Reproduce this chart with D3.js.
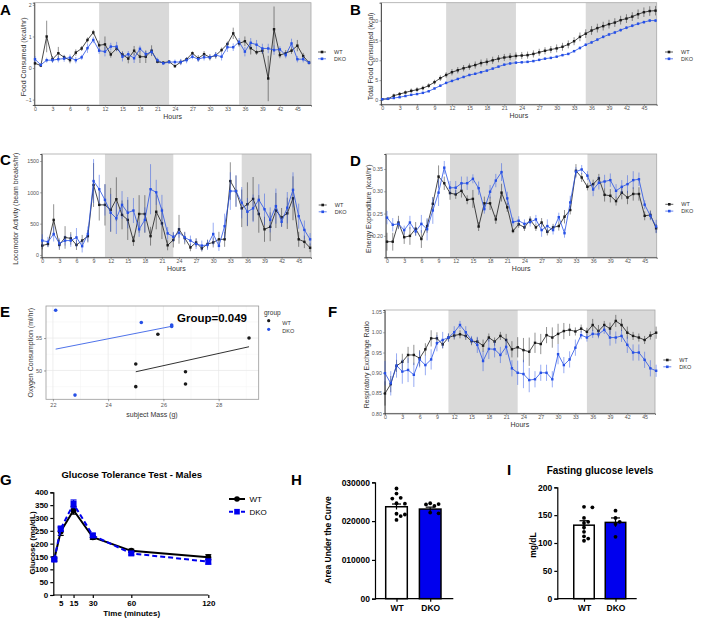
<!DOCTYPE html>
<html><head><meta charset="utf-8">
<script src="https://cdn.jsdelivr.net/npm/d3@7"></script>
<style>
body{margin:0;background:#fff}
svg{font-family:"Liberation Sans",Arial,sans-serif}
</style></head><body><div id="plot"></div>
<script>
// ---- data ----
const hours = d3.range(0, 48);
const hourTicks = d3.range(0, 46, 3);
const darkPhases = [[11, 23], [35, 48]];
const groups = ["WT", "DKO"];

const foodWT = [0.15,0.08,1.0,0.28,0.47,0.34,0.25,0.49,0.62,0.89,1.13,0.72,0.75,0.43,0.62,0.43,0.3,0.55,0.36,0.36,0.55,0.2,0.17,0.2,0.06,0.19,0.28,0.47,0.31,0.44,0.34,0.4,0.57,0.76,1.1,0.78,0.85,0.63,0.5,0.55,-0.33,1.23,0.41,0.47,0.55,0.71,0.38,0.17];
const foodWTErr = [0.05,0.05,0.5,0.1,0.2,0.08,0.1,0.1,0.08,0.08,0.08,0.15,0.25,0.1,0.08,0.1,0.15,0.15,0.2,0.2,0.17,0.05,0.05,0.05,0.05,0.08,0.06,0.06,0.1,0.1,0.1,0.1,0.08,0.08,0.18,0.1,0.15,0.2,0.08,0.1,0.72,0.72,0.1,0.1,0.1,0.18,0.1,0.06];
const foodDKO = [0.28,0.1,0.25,0.25,0.28,0.3,0.33,0.25,0.34,0.63,0.89,0.55,0.52,0.68,0.68,0.36,0.44,0.31,0.61,0.44,0.51,0.25,0.15,0.19,0.19,0.19,0.25,0.36,0.28,0.34,0.34,0.41,0.36,0.66,0.66,0.83,0.52,0.8,0.74,0.62,0.62,0.57,0.59,0.41,0.78,0.28,0.28,0.17];
const foodDKOErr = [0.1,0.05,0.08,0.08,0.1,0.1,0.1,0.1,0.08,0.15,0.1,0.1,0.15,0.12,0.15,0.15,0.1,0.15,0.1,0.1,0.1,0.08,0.05,0.06,0.08,0.1,0.1,0.08,0.08,0.1,0.08,0.1,0.12,0.15,0.12,0.12,0.15,0.15,0.15,0.15,0.15,0.15,0.1,0.1,0.15,0.1,0.1,0.05];

const totalWT = [0.2,0.3,1.1,1.5,1.9,2.3,2.6,3.0,3.6,4.5,5.5,6.3,7.0,7.5,8.0,8.4,8.8,9.3,9.6,10.0,10.4,10.7,10.9,11.1,11.2,11.3,11.6,12.0,12.4,12.7,13.0,13.4,14.0,14.8,15.9,16.7,17.5,18.1,18.6,19.1,19.5,20.1,20.5,21.0,21.6,22.1,22.4,22.5];
const totalWTErr = [0.1,0.1,0.5,0.5,0.5,0.6,0.6,0.6,0.6,0.6,0.7,0.7,0.8,0.8,0.8,0.8,0.9,0.9,0.9,0.9,0.9,0.9,0.9,0.9,0.9,0.9,0.9,0.9,0.9,0.9,1.0,1.0,1.0,1.0,1.1,1.1,1.1,1.1,1.1,1.1,1.1,1.1,1.1,1.1,1.2,1.2,1.2,1.2];
const totalDKO = [0.2,0.3,0.5,0.7,1.0,1.3,1.5,1.8,2.2,2.9,3.6,4.3,4.8,5.3,5.8,6.3,6.6,7.0,7.4,7.9,8.4,8.9,9.2,9.4,9.5,9.6,9.8,10.1,10.4,10.6,10.9,11.3,11.6,12.3,13.1,13.9,14.5,15.2,15.9,16.5,17.0,17.6,18.2,18.7,19.2,19.6,20.0,20.0];
const totalDKOErr = [0.1,0.1,0.2,0.2,0.2,0.2,0.2,0.2,0.2,0.2,0.3,0.3,0.3,0.3,0.3,0.3,0.3,0.3,0.3,0.3,0.3,0.3,0.3,0.3,0.3,0.3,0.3,0.3,0.3,0.3,0.3,0.3,0.3,0.3,0.4,0.4,0.4,0.4,0.4,0.4,0.4,0.4,0.4,0.4,0.4,0.4,0.4,0.4];

const locoWT = [150,175,560,160,280,265,160,230,300,1117,800,800,720,890,640,560,225,655,655,300,690,505,155,240,410,270,120,200,105,175,200,250,250,1180,1020,745,810,895,655,410,450,710,600,665,905,250,210,115];
const locoWTErr = [60,50,250,80,180,100,80,90,100,350,250,330,350,350,230,320,80,300,300,150,280,250,80,120,230,100,60,70,50,70,80,120,120,300,250,300,350,350,300,200,230,280,150,250,350,120,100,70];
const locoDKO = [230,210,335,185,230,230,280,140,335,1180,1050,880,675,585,800,675,710,410,560,1050,1000,710,345,290,355,280,230,175,150,160,335,145,460,1020,1020,835,690,745,880,730,560,780,530,755,1040,620,400,250];
const locoDKOErr = [100,80,120,80,80,100,150,100,120,350,230,250,300,250,220,250,200,120,200,400,200,250,100,80,80,80,80,80,80,80,180,80,200,300,250,250,220,220,250,250,200,280,80,250,280,200,150,100];

const eeWT = [0.187,0.187,0.23,0.197,0.2,0.216,0.193,0.222,0.272,0.333,0.318,0.296,0.293,0.301,0.281,0.283,0.221,0.273,0.273,0.237,0.297,0.264,0.211,0.226,0.219,0.236,0.219,0.23,0.209,0.219,0.222,0.243,0.258,0.346,0.331,0.31,0.316,0.329,0.292,0.29,0.278,0.297,0.286,0.294,0.294,0.245,0.247,0.217];
const eeWTErr = [0.02,0.02,0.015,0.015,0.02,0.015,0.02,0.015,0.015,0.025,0.015,0.015,0.01,0.015,0.01,0.02,0.01,0.015,0.015,0.01,0.02,0.01,0.005,0.008,0.008,0.008,0.008,0.01,0.008,0.008,0.01,0.015,0.01,0.015,0.01,0.008,0.01,0.01,0.015,0.015,0.01,0.015,0.015,0.015,0.015,0.01,0.01,0.01];
const eeDKO = [0.241,0.225,0.227,0.213,0.23,0.21,0.227,0.215,0.257,0.297,0.353,0.308,0.308,0.318,0.318,0.328,0.307,0.26,0.299,0.324,0.343,0.284,0.231,0.234,0.227,0.231,0.237,0.213,0.222,0.213,0.242,0.206,0.275,0.344,0.349,0.335,0.304,0.319,0.322,0.325,0.301,0.31,0.316,0.325,0.327,0.27,0.245,0.221];
const eeDKOErr = [0.015,0.015,0.01,0.01,0.015,0.01,0.02,0.025,0.03,0.03,0.015,0.015,0.015,0.015,0.015,0.01,0.015,0.01,0.015,0.015,0.02,0.015,0.01,0.01,0.01,0.01,0.01,0.015,0.015,0.01,0.01,0.01,0.015,0.01,0.01,0.01,0.015,0.015,0.015,0.015,0.015,0.015,0.02,0.02,0.015,0.01,0.01,0.015];

const rerWT = [0.849,0.872,0.917,0.927,0.944,0.944,0.936,0.958,0.985,0.985,0.97,0.987,0.992,0.995,0.991,0.978,0.977,0.967,0.987,0.977,0.991,0.981,0.958,0.963,0.956,0.952,0.974,0.971,0.993,0.987,0.996,1.003,1.006,1.002,1.009,1.001,1.018,1.003,1.018,1.009,1.028,1.018,0.999,0.991,0.987,0.981,0.992,0.999];
const rerWTErr = [0.03,0.02,0.015,0.02,0.02,0.025,0.02,0.015,0.02,0.015,0.01,0.01,0.01,0.01,0.01,0.01,0.01,0.015,0.01,0.01,0.01,0.015,0.02,0.025,0.03,0.035,0.025,0.025,0.02,0.025,0.025,0.02,0.015,0.01,0.01,0.01,0.015,0.015,0.01,0.015,0.015,0.015,0.015,0.01,0.01,0.01,0.01,0.015];
const rerDKO = [0.899,0.874,0.918,0.903,0.907,0.895,0.933,0.919,0.933,0.973,0.981,0.987,1.0,1.018,1.0,0.981,0.969,0.929,0.959,0.958,0.944,0.964,0.911,0.9,0.897,0.882,0.884,0.9,0.9,0.884,0.946,0.919,0.933,0.962,0.993,0.987,0.996,0.995,1.006,0.987,0.987,0.991,0.969,0.95,0.95,0.932,0.911,0.905];
const rerDKOErr = [0.03,0.03,0.03,0.03,0.03,0.03,0.02,0.025,0.025,0.02,0.02,0.01,0.015,0.01,0.015,0.01,0.02,0.025,0.025,0.02,0.02,0.02,0.02,0.03,0.035,0.03,0.02,0.02,0.02,0.02,0.025,0.02,0.02,0.02,0.01,0.01,0.01,0.01,0.01,0.02,0.015,0.015,0.02,0.02,0.02,0.02,0.02,0.015];

const massWT = [25.0,25.0,25.8,26.8,26.8,29.1];
const o2WT = [51.0,47.5,55.6,49.8,47.9,55.0];
const massDKO = [22.1,22.8,25.2,26.3,26.3];
const o2DKO = [59.3,46.2,57.4,57.0,56.8];

const gttTimes = [0, 5, 15, 30, 60, 120];
const gttWT = [140, 247, 330, 225, 172, 147];
const gttWTErr = [8, 15, 15, 8, 6, 10];
const gttDKO = [138, 258, 355, 232, 162, 130];
const gttDKOErr = [6, 10, 15, 8, 6, 10];

const aucWT = [28400,27100,26000,25800,24600,24500,21900,21700,21300,20300];
const aucDKO = [24600,24400,24300,23900,22200,22000];
const aucMean = [23700, 23100];
const aucSem = [700, 500];
const aucTickLabels = ["00", "010000", "020000", "030000"];

const fastWT = [165,164,145,138,136,128,120,112,108,104];
const fastDKO = [158,145,138,134,111];
const fastMean = [132, 137];
const fastSem = [8, 8];

// ---- drawing ----
const W = 702, H = 618;
const svg = d3.select("#plot").append("svg").attr("width", W).attr("height", H);
const BLK = "#1a1a1a", BLU = "#2650e6", GB = "#0000ee";

function letter(t, x, y) {
  svg.append("text").attr("x", x).attr("y", y).text(t)
    .attr("font-size", 15).attr("font-weight", "bold");
}

function ggLegend(x, y, cols) {
  groups.forEach((g, i) => {
    const yy = y + i * 6.8;
    svg.append("line").attr("x1", x - 4).attr("x2", x + 4).attr("y1", yy).attr("y2", yy)
      .attr("stroke", cols[i]).attr("stroke-width", 0.7);
    svg.append("rect").attr("x", x - 1.3).attr("y", yy - 1.3).attr("width", 2.6).attr("height", 2.6).attr("fill", cols[i]);
    svg.append("text").attr("x", x + 12).attr("y", yy + 2).text(g).attr("font-size", 5.5).attr("fill", "#333");
  });
}

function tsPanel(p) {
  const x = d3.scaleLinear().domain(p.xd).range([p.l, p.r]);
  const y = d3.scaleLinear().domain(p.yd).range([p.b, p.t]);
  const g = svg.append("g");
  darkPhases.forEach(([a, b]) => {
    g.append("rect").attr("x", x(a)).attr("y", p.t)
      .attr("width", Math.min(x(b), p.r) - x(a)).attr("height", p.b - p.t).attr("fill", "#d9d9d9");
  });
  g.append("rect").attr("x", p.l).attr("y", p.t).attr("width", p.r - p.l).attr("height", p.b - p.t)
    .attr("fill", "none").attr("stroke", "#a8a8a8").attr("stroke-width", 0.8);
  const xa = g.append("g").attr("transform", `translate(0,${p.b})`)
    .call(d3.axisBottom(x).tickValues(hourTicks).tickSize(1.5).tickPadding(0.8));
  const ya = g.append("g").attr("transform", `translate(${p.l},0)`)
    .call(d3.axisLeft(y).tickValues(p.yt).tickSize(1.5).tickPadding(1.2).tickFormat(p.fmt || d3.format("")));
  [xa, ya].forEach(a => {
    a.selectAll("text").attr("font-size", 5.3).attr("fill", "#555").attr("font-family", "Liberation Sans, Arial");
    a.selectAll("line").attr("stroke", "#444").attr("stroke-width", 0.5);
    a.select(".domain").attr("stroke", "#333").attr("stroke-width", 0.8);
  });
  p.series.forEach(([vals, errs, col]) => {
    const s = g.append("g");
    s.selectAll("line.err").data(hours).join("line")
      .attr("x1", d => x(d)).attr("x2", d => x(d))
      .attr("y1", d => y(vals[d] - errs[d])).attr("y2", d => y(vals[d] + errs[d]))
      .attr("stroke", col).attr("stroke-opacity", 0.6).attr("stroke-width", 0.8);
    s.append("path").datum(hours)
      .attr("d", d3.line().x(d => x(d)).y(d => y(vals[d])))
      .attr("fill", "none").attr("stroke", col).attr("stroke-width", 0.8);
    s.selectAll("rect").data(hours).join("rect")
      .attr("x", d => x(d) - 1.2).attr("y", d => y(vals[d]) - 1.2)
      .attr("width", 2.4).attr("height", 2.4).attr("fill", col);
  });
  svg.append("text").attr("x", (p.l + p.r) / 2).attr("y", p.b + 13.5).attr("text-anchor", "middle")
    .attr("font-size", 7).attr("fill", "#333").text("Hours");
  svg.append("text").attr("transform", `translate(${p.lx},${(p.t + p.b) / 2 + 3}) rotate(-90)`)
    .attr("text-anchor", "middle").attr("font-size", 7).attr("fill", "#333").text(p.ylab);
  ggLegend(p.legX, p.legY, [BLK, BLU]);
}

// A
tsPanel({l: 34.3, r: 311, t: 2.7, b: 105, xd: [-0.12, 47.34], yd: [-1.17, 2.07], yt: [-1, 0, 1, 2],
  series: [[foodWT, foodWTErr, BLK], [foodDKO, foodDKOErr, BLU]],
  lx: 26, ylab: "Food Consumed (kcal/hr)", legX: 322, legY: 52});
// B
tsPanel({l: 381, r: 656.7, t: 2.7, b: 104.3, xd: [-0.2, 47.2], yd: [-1.08, 24.5], yt: [0, 5, 10, 15, 20],
  series: [[totalWT, totalWTErr, BLK], [totalDKO, totalDKOErr, BLU]],
  lx: 372.5, ylab: "Total Food Consumed (kcal)", legX: 669, legY: 52});
// C
tsPanel({l: 41.7, r: 311, t: 154, b: 257.3, xd: [-0.1, 47.16], yd: [-37, 1612], yt: [0, 500, 1000, 1500],
  series: [[locoWT, locoWTErr, BLK], [locoDKO, locoDKOErr, BLU]],
  lx: 18, ylab: "Locomotor Activity (beam breaks/hr)", legX: 322.7, legY: 205});
// D
tsPanel({l: 385.7, r: 656.7, t: 154, b: 257.3, xd: [-0.23, 47.1], yd: [0.152, 0.3836], yt: [0.20, 0.25, 0.30, 0.35],
  fmt: d3.format(".2f"),
  series: [[eeWT, eeWTErr, BLK], [eeDKO, eeDKOErr, BLU]],
  lx: 371, ylab: "Energy Expenditure (kcal/hr)", legX: 669.3, legY: 204.3});
// F
tsPanel({l: 384.7, r: 655, t: 310, b: 413.3, xd: [-0.05, 46.8], yd: [0.80, 1.055], yt: [0.80, 0.85, 0.90, 0.95, 1.00, 1.05],
  fmt: d3.format(".2f"),
  series: [[rerWT, rerWTErr, BLK], [rerDKO, rerDKOErr, BLU]],
  lx: 369, ylab: "Respiratory Exchange Ratio", legX: 667.3, legY: 360});

// E
(function () {
  const l = 46, r = 258.7, t = 306, b = 399.3;
  const x = d3.scaleLinear().domain([21.75, 29.45]).range([l, r]);
  const y = d3.scaleLinear().domain([45.55, 59.95]).range([b, t]);
  const g = svg.append("g");
  [23, 25, 27, 29].forEach(v => g.append("line").attr("x1", x(v)).attr("x2", x(v)).attr("y1", t).attr("y2", b).attr("stroke", "#f2f2f2").attr("stroke-width", 0.5));
  [47.5, 52.5, 57.5].forEach(v => g.append("line").attr("x1", l).attr("x2", r).attr("y1", y(v)).attr("y2", y(v)).attr("stroke", "#f2f2f2").attr("stroke-width", 0.5));
  [22, 24, 26, 28].forEach(v => g.append("line").attr("x1", x(v)).attr("x2", x(v)).attr("y1", t).attr("y2", b).attr("stroke", "#e6e6e6").attr("stroke-width", 0.7));
  [50, 55].forEach(v => g.append("line").attr("x1", l).attr("x2", r).attr("y1", y(v)).attr("y2", y(v)).attr("stroke", "#e6e6e6").attr("stroke-width", 0.7));
  g.append("rect").attr("x", l).attr("y", t).attr("width", r - l).attr("height", b - t)
    .attr("fill", "none").attr("stroke", "#999").attr("stroke-width", 0.8);
  const xa = g.append("g").attr("transform", `translate(0,${b})`).call(d3.axisBottom(x).tickValues([22, 24, 26, 28]).tickSize(2).tickPadding(2));
  const ya = g.append("g").attr("transform", `translate(${l},0)`).call(d3.axisLeft(y).tickValues([50, 55]).tickSize(2).tickPadding(2));
  [xa, ya].forEach(a => {
    a.selectAll("text").attr("font-size", 5.5).attr("fill", "#555").attr("font-family", "Liberation Sans, Arial");
    a.selectAll("line").attr("stroke", "#444").attr("stroke-width", 0.5);
    a.select(".domain").remove();
  });
  const fit = (xs, ys) => {
    const mx = d3.mean(xs), my = d3.mean(ys);
    const sl = d3.sum(xs, (v, i) => (v - mx) * (ys[i] - my)) / d3.sum(xs, v => (v - mx) ** 2);
    const ex = d3.extent(xs);
    return ex.map(v => [v, my + sl * (v - mx)]);
  };
  [[massWT, o2WT, BLK], [massDKO, o2DKO, "#3a62e6"]].forEach(([xs, ys, c]) => {
    g.append("path").datum(fit(xs, ys)).attr("d", d3.line().x(d => x(d[0])).y(d => y(d[1])))
      .attr("stroke", c).attr("stroke-width", 0.9).attr("fill", "none");
    g.selectAll(null).data(xs).join("circle").attr("cx", d => x(d)).attr("cy", (d, i) => y(ys[i]))
      .attr("r", 1.8).attr("fill", c === BLK ? BLK : BLU);
  });
  g.append("text").attr("x", 212).attr("y", 322).attr("text-anchor", "middle")
    .attr("font-size", 11.5).attr("font-weight", "bold").text("Group=0.049");
  svg.append("text").attr("x", 152).attr("y", 417).attr("text-anchor", "middle").attr("font-size", 7).attr("fill", "#333").text("subject Mass (g)");
  svg.append("text").attr("transform", `translate(32.5,${(t + b) / 2}) rotate(-90)`).attr("text-anchor", "middle")
    .attr("font-size", 7).attr("fill", "#333").text("Oxygen Consumption (ml/hr)");
  svg.append("text").attr("x", 264).attr("y", 315).attr("font-size", 6.5).attr("fill", "#333").text("group");
  groups.forEach((gname, i) => {
    svg.append("circle").attr("cx", 268.7).attr("cy", 320.7 + i * 8.6).attr("r", 1.6).attr("fill", i ? BLU : BLK);
    svg.append("text").attr("x", 282.3).attr("y", 325 + i * 7.5).attr("font-size", 5.5).attr("fill", "#333").text(gname);
  });
})();

// G
(function () {
  const x = d3.scaleLinear().domain([0, 120]).range([54.3, 208.3]);
  const y = d3.scaleLinear().domain([0, 400]).range([595, 492.3]);
  const g = svg.append("g");
  const ya = g.append("g").attr("transform", "translate(53.3,0)")
    .call(d3.axisLeft(y).tickValues(d3.range(0, 401, 50)).tickSize(3).tickPadding(2));
  const xa = g.append("g").attr("transform", "translate(0,595)")
    .call(d3.axisBottom(x).tickValues([5, 15, 30, 60, 120]).tickSize(3).tickPadding(2));
  xa.select(".domain").attr("d", "M53.3,0H208.3");
  [xa, ya].forEach(a => {
    a.selectAll("text").attr("font-size", 8).attr("font-weight", "bold").attr("fill", "#000").attr("font-family", "Liberation Sans, Arial");
    a.selectAll("line").attr("stroke", "#000").attr("stroke-width", 1.2);
    a.select(".domain").attr("stroke", "#000").attr("stroke-width", 1.2);
  });
  const series = [[gttWT, gttWTErr, "#000", null, "circle"], [gttDKO, gttDKOErr, GB, "5,3", "square"]];
  series.forEach(([v, e, c, dash, shape]) => {
    const s = g.append("g");
    gttTimes.forEach((t, i) => {
      s.append("line").attr("x1", x(t)).attr("x2", x(t)).attr("y1", y(v[i] - e[i])).attr("y2", y(v[i] + e[i])).attr("stroke", c).attr("stroke-width", 1.2);
      [v[i] - e[i], v[i] + e[i]].forEach(z => s.append("line").attr("x1", x(t) - 3).attr("x2", x(t) + 3).attr("y1", y(z)).attr("y2", y(z)).attr("stroke", c).attr("stroke-width", 1.2));
    });
    s.append("path").datum(gttTimes.map((t, i) => [t, v[i]]))
      .attr("d", d3.line().x(d => x(d[0])).y(d => y(d[1])))
      .attr("fill", "none").attr("stroke", c).attr("stroke-width", 2).attr("stroke-dasharray", dash);
    gttTimes.forEach((t, i) => {
      if (shape === "circle") s.append("circle").attr("cx", x(t)).attr("cy", y(v[i])).attr("r", 3).attr("fill", c);
      else s.append("rect").attr("x", x(t) - 3).attr("y", y(v[i]) - 3).attr("width", 6).attr("height", 6).attr("fill", c);
    });
  });
  svg.append("text").attr("x", 131.7).attr("y", 478).attr("text-anchor", "middle").attr("font-size", 9.5).attr("font-weight", "bold").text("Glucose Tolerance Test - Males");
  svg.append("text").attr("x", 131.7).attr("y", 616).attr("text-anchor", "middle").attr("font-size", 8).attr("font-weight", "bold").text("Time (minutes)");
  svg.append("text").attr("transform", "translate(34.5,543) rotate(-90)").attr("text-anchor", "middle").attr("font-size", 8).attr("font-weight", "bold").text("Glucose (mg/dL)");
  series.forEach(([v, e, c, dash, shape], i) => {
    const yy = 499 + i * 12.7;
    svg.append("line").attr("x1", 229).attr("x2", 245).attr("y1", yy).attr("y2", yy).attr("stroke", c).attr("stroke-width", 2).attr("stroke-dasharray", dash ? "4,2" : null);
    if (shape === "circle") svg.append("circle").attr("cx", 237).attr("cy", yy).attr("r", 2.8).attr("fill", c);
    else svg.append("rect").attr("x", 234.2).attr("y", yy - 2.8).attr("width", 5.6).attr("height", 5.6).attr("fill", c);
    svg.append("text").attr("x", 249.5).attr("y", yy + 3).attr("font-size", 8).text(groups[i]);
  });
})();

// H and I bar panels
function barPanel(p) {
  const x = d3.scalePoint().domain(groups).range(p.centers);
  const y = d3.scaleLinear().domain(p.yd).range([p.b, p.t]);
  const g = svg.append("g");
  const ya = g.append("g").attr("transform", `translate(${p.ax},0)`)
    .call(d3.axisLeft(y).tickValues(p.yt).tickSize(3).tickPadding(2).tickFormat(p.fmt));
  const xa = g.append("g").attr("transform", `translate(0,${p.b})`)
    .call(d3.axisBottom(x).tickSize(3).tickPadding(3));
  xa.select(".domain").attr("d", `M${p.ax},0H${p.xEnd}`);
  [xa, ya].forEach(a => {
    a.selectAll("text").attr("font-size", p.fs).attr("font-weight", "bold").attr("fill", "#000").attr("font-family", "Liberation Sans, Arial");
    a.selectAll("line").attr("stroke", "#000").attr("stroke-width", 1.2);
    a.select(".domain").attr("stroke", "#000").attr("stroke-width", 1.2);
  });
  groups.forEach((gr, i) => {
    g.append("rect").attr("x", x(gr) - p.bw / 2).attr("y", y(p.means[i])).attr("width", p.bw)
      .attr("height", p.b - y(p.means[i])).attr("fill", i ? GB : "#fff").attr("stroke", "#000").attr("stroke-width", 1.5);
    const lo = y(p.means[i] - p.sem[i]), hi = y(p.means[i] + p.sem[i]);
    g.append("line").attr("x1", x(gr)).attr("x2", x(gr)).attr("y1", lo).attr("y2", hi).attr("stroke", "#000").attr("stroke-width", 1.2);
    g.append("line").attr("x1", x(gr) - 4.5).attr("x2", x(gr) + 4.5).attr("y1", hi).attr("y2", hi).attr("stroke", "#000").attr("stroke-width", 1.2);
    // simple beeswarm so dots do not overlap
    const placed = [];
    p.dots[i].forEach(v => {
      const cy = y(v);
      let off = 0;
      for (let k = 0; k < 12; k++) {
        off = (k % 2 ? 1 : -1) * Math.ceil(k / 2) * 4.2;
        if (!placed.some(q => Math.hypot(q[0] - off, q[1] - cy) < 4.3)) break;
      }
      placed.push([off, cy]);
      g.append("circle").attr("cx", x(gr) + off).attr("cy", cy).attr("r", 1.9).attr("fill", "#000");
    });
  });
  svg.append("text").attr("transform", `translate(${p.lx},${p.ly}) rotate(-90)`).attr("text-anchor", "middle")
    .attr("font-size", p.lfs).attr("font-weight", "bold").text(p.ylab);
}

barPanel({centers: [396.5, 430.2], bw: 21.6, yd: [0, 30000], t: 482.3, b: 598.7, ax: 375, xEnd: 453.3,
  yt: [0, 10000, 20000, 30000], fmt: (d, i) => aucTickLabels[i], fs: 8.5,
  means: aucMean, sem: aucSem, dots: [aucWT, aucDKO], lx: 331, ly: 540, lfs: 8.5, ylab: "Area Under the Curve"});
barPanel({centers: [584, 615.5], bw: 20.5, yd: [0, 200], t: 487.3, b: 598.7, ax: 557.3, xEnd: 636.7,
  yt: [0, 50, 100, 150, 200], fmt: d3.format("d"), fs: 8.5,
  means: fastMean, sem: fastSem, dots: [fastWT, fastDKO], lx: 536, ly: 545, lfs: 8.5, ylab: "mg/dL"});
svg.append("text").attr("x", 600).attr("y", 473.5).attr("text-anchor", "middle").attr("font-size", 10).attr("font-weight", "bold").text("Fasting glucose levels");

letter("A", 0, 15); letter("B", 350, 15);
letter("C", 0, 165); letter("D", 350, 166);
letter("E", 0, 317); letter("F", 328, 317);
letter("G", 0, 485); letter("H", 291, 485); letter("I", 507, 475);
</script></body></html>
